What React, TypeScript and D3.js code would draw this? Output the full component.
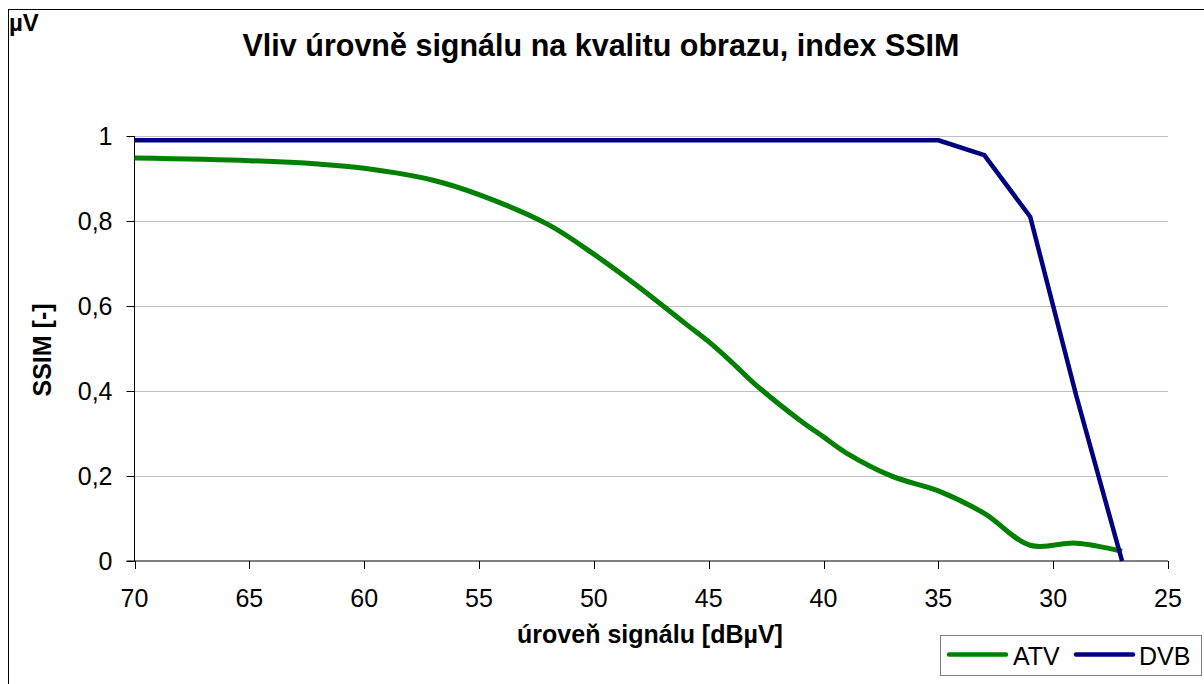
import React from 'react';
import * as d3 from 'd3';

// signal level [dBuV] and SSIM readings
const atvLevels = [70, 65, 62, 60, 57, 55, 52, 50, 48, 46, 45, 44, 43, 41, 40, 39, 37, 35, 33, 31, 29, 27];
const atvSsim = [0.948, 0.942, 0.934, 0.924, 0.896, 0.862, 0.792, 0.722, 0.643, 0.558, 0.516, 0.468, 0.417, 0.33, 0.292, 0.254, 0.199, 0.165, 0.112, 0.037, 0.042, 0.023];

const dvbLevels = [70, 65, 60, 55, 50, 45, 40, 35, 33, 31, 29, 27];
const dvbSsim = [0.99, 0.99, 0.99, 0.99, 0.99, 0.99, 0.99, 0.99, 0.955, 0.81, 0.39, 0];

const xTicks = [70, 65, 60, 55, 50, 45, 40, 35, 30, 25];
const yTicks = [0, 0.2, 0.4, 0.6, 0.8, 1];

const title = 'Vliv úrovně signálu na kvalitu obrazu, index SSIM';
const xTitle = 'úroveň signálu [dBµV]';
const yTitle = 'SSIM [-]';

const FONT = 'Liberation Sans, Arial, sans-serif';

export default function App() {
  const left = 134.5;
  const right = 1168;
  const top = 136;
  const bottom = 561;

  const x = d3.scaleLinear().domain([70, 25]).range([left, right]);
  const y = d3.scaleLinear().domain([0, 1]).range([bottom, top]);

  const atvPath = d3
    .line<[number, number]>()
    .x((d) => x(d[0]))
    .y((d) => y(d[1]))
    .curve(d3.curveCatmullRom.alpha(0.5))(atvLevels.map((l, i) => [l, atvSsim[i]] as [number, number]));
  const dvbPath = d3
    .line<[number, number]>()
    .x((d) => x(d[0]))
    .y((d) => y(d[1]))(dvbLevels.map((l, i) => [l, dvbSsim[i]] as [number, number]));

  const fmt = (v: number) => (v === 0 || v === 1 ? String(v) : v.toFixed(1).replace('.', ','));

  return (
    <svg
      width={1204}
      height={684}
      style={{ position: 'absolute', left: 0, top: 0, background: '#fff' }}
      fontFamily={FONT}
    >
      <rect x={8.5} y={9.5} width={1210} height={690} fill="#fff" stroke="#000" />
      <text x={9} y={31} fontSize={24} fontWeight="bold">µV</text>
      <text x={601} y={56} fontSize={30.5} fontWeight="bold" textAnchor="middle">{title}</text>

      {/* grid */}
      {yTicks.filter((t) => t > 0).map((t) => (
        <line key={t} x1={left} x2={right} y1={Math.round(y(t)) + 0.5} y2={Math.round(y(t)) + 0.5} stroke="#c0c0c0" />
      ))}

      {/* axes */}
      <line x1={left} x2={left} y1={top} y2={bottom} stroke="#000" />
      <line x1={left - 8} x2={right} y1={bottom} y2={bottom} stroke="#000" />
      {yTicks.map((t) => (
        <g key={t}>
          <line x1={left - 8} x2={left} y1={Math.round(y(t)) + 0.5} y2={Math.round(y(t)) + 0.5} stroke="#000" />
          <text x={left - 22} y={y(t) + 9} fontSize={25} textAnchor="end">{fmt(t)}</text>
        </g>
      ))}
      {xTicks.map((t) => (
        <g key={t}>
          <line x1={Math.round(x(t)) + 0.5} x2={Math.round(x(t)) + 0.5} y1={bottom} y2={bottom + 8} stroke="#000" />
          <text x={x(t)} y={bottom + 46} fontSize={25} textAnchor="middle">{t}</text>
        </g>
      ))}

      <text x={650} y={643} fontSize={25} fontWeight="bold" textAnchor="middle">{xTitle}</text>
      <text transform={`translate(51, 350) rotate(-90)`} fontSize={25} fontWeight="bold" textAnchor="middle">
        {yTitle}
      </text>

      {/* series */}
      <path d={atvPath ?? ''} fill="none" stroke="#008000" strokeWidth={5} strokeLinejoin="round" />
      <path d={dvbPath ?? ''} fill="none" stroke="#000080" strokeWidth={4.5} strokeLinejoin="round" />

      {/* legend */}
      <rect x={940.5} y={635.5} width={261} height={40} fill="#fff" stroke="#808080" />
      <line x1={949} x2={1006} y1={654.5} y2={654.5} stroke="#008000" strokeWidth={4.5} strokeLinecap="round" />
      <text x={1013} y={665} fontSize={25}>ATV</text>
      <line x1={1076} x2={1133} y1={654.5} y2={654.5} stroke="#000080" strokeWidth={4.5} strokeLinecap="round" />
      <text x={1139} y={665} fontSize={25}>DVB</text>
    </svg>
  );
}
